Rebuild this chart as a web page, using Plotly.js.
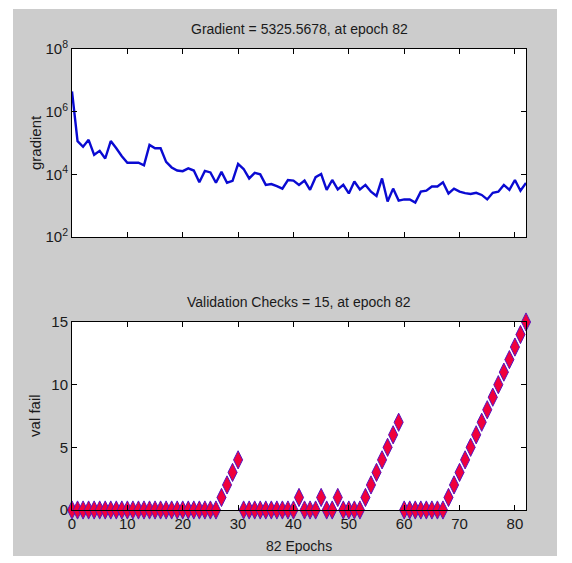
<!DOCTYPE html>
<html>
<head>
<meta charset="utf-8">
<script src="https://cdn.plot.ly/plotly-3.0.1.min.js"></script>
<style>
html,body{margin:0;padding:0;background:#ffffff;width:572px;height:563px;overflow:hidden;}
#chart{position:absolute;left:13px;top:9px;width:544px;height:547px;}
</style>
</head>
<body>
<div id="chart"></div>
<script>
// ---- data ----
const epochs = Array.from({length: 83}, (_, i) => i);
const gradient = [
  4400000, 115000, 76000, 126000, 42000, 56000, 32000, 115000, 68000, 38000,
  23400, 23400, 23400, 19500, 87000, 68000, 68000, 25000, 16600, 13200,
  12600, 15500, 13200, 5600, 12900, 11500, 5400, 12000, 5400, 6200,
  21400, 14800, 7400, 11200, 10000, 4600, 4900, 4200, 3500, 6600,
  6300, 4600, 6300, 3200, 8100, 10200, 3200, 6600, 3300, 4600,
  2450, 5900, 3300, 4600, 2800, 2040, 7400, 1350, 3500, 1450,
  1580, 1580, 1260, 2800, 3000, 4100, 4100, 5600, 2450, 3500,
  2800, 2500, 2350, 2570, 2200, 1580, 2570, 2800, 4600, 3200,
  6600, 3000, 5325.5678
];
const valFail = [
  0,0,0,0,0,0,0,0,0,0,
  0,0,0,0,0,0,0,0,0,0,
  0,0,0,0,0,0,0,1,2,3,
  4,0,0,0,0,0,0,0,0,0,
  0,1,0,0,0,1,0,0,1,0,
  0,0,0,1,2,3,4,5,6,7,
  0,0,0,0,0,0,0,0,1,2,
  3,4,5,6,7,8,9,10,11,12,
  13,14,15
];
const xTicks = [0,10,20,30,40,50,60,70,80];
const gradTickVals = [1e2,1e4,1e6,1e8];
const gradTickText = ['10<sup>2</sup>','10<sup>4</sup>','10<sup>6</sup>','10<sup>8</sup>'];
const valTicks = [0,5,10,15];
const titleTop = 'Gradient = 5325.5678, at epoch 82';
const titleBottom = 'Validation Checks = 15, at epoch 82';
const yTitleTop = 'gradient';
const yTitleBottom = 'val fail';
const xTitle = '82 Epochs';

const FONT = '"Liberation Sans", Arial, sans-serif';
const TXT = '#1a1a1a';

const traces = [
  {
    x: epochs, y: gradient, type: 'scatter', mode: 'lines',
    line: {color: 'rgb(10,10,210)', width: 2.4},
    xaxis: 'x', yaxis: 'y', hoverinfo: 'skip'
  },
  {
    x: epochs, y: valFail, type: 'scatter', mode: 'markers',
    marker: {symbol: 'diamond-tall', size: 13, color: 'rgb(240,0,60)',
             line: {color: 'rgb(90,20,190)', width: 1}},
    cliponaxis: false,
    xaxis: 'x2', yaxis: 'y2', hoverinfo: 'skip'
  }
];

const axBase = {
  showline: true, linecolor: '#000', linewidth: 1, mirror: 'ticks',
  ticks: 'inside', ticklen: 5, tickcolor: '#000', tickwidth: 1,
  showgrid: false, zeroline: false,
  tickfont: {family: FONT, size: 15, color: TXT}
};

const layout = {
  width: 544, height: 547,
  paper_bgcolor: 'rgb(204,204,204)', plot_bgcolor: '#ffffff',
  margin: {l: 59, r: 31, t: 40, b: 46},
  showlegend: false,
  xaxis: Object.assign({}, axBase, {domain: [0,1], range: [0,82], tickvals: xTicks, showticklabels: false, anchor: 'y'}),
  yaxis: Object.assign({}, axBase, {domain: [0.5922,1], type: 'log', range: [2,8], tickvals: gradTickVals, ticktext: gradTickText, anchor: 'x'}),
  xaxis2: Object.assign({}, axBase, {domain: [0,1], range: [0,82], tickvals: xTicks, anchor: 'y2'}),
  yaxis2: Object.assign({}, axBase, {domain: [0,0.4078], range: [0,15], tickvals: valTicks, anchor: 'x2'}),
  annotations: [
    {text: titleTop, xref: 'paper', yref: 'paper', x: 0.5, y: 1, yshift: 10, xanchor: 'center', yanchor: 'bottom', showarrow: false, font: {family: FONT, size: 14, color: TXT}},
    {text: titleBottom, xref: 'paper', yref: 'paper', x: 0.5, y: 0.4078, yshift: 10, xanchor: 'center', yanchor: 'bottom', showarrow: false, font: {family: FONT, size: 14, color: TXT}},
    {text: yTitleTop, xref: 'paper', yref: 'paper', x: 0, xshift: -37, y: 0.796, textangle: -90, xanchor: 'center', yanchor: 'middle', showarrow: false, font: {family: FONT, size: 15, color: TXT}},
    {text: yTitleBottom, xref: 'paper', yref: 'paper', x: 0, xshift: -37, y: 0.204, textangle: -90, xanchor: 'center', yanchor: 'middle', showarrow: false, font: {family: FONT, size: 15, color: TXT}},
    {text: xTitle, xref: 'paper', yref: 'paper', x: 0.5, y: 0, yshift: -36, xanchor: 'center', yanchor: 'middle', showarrow: false, font: {family: FONT, size: 14, color: TXT}}
  ]
};

Plotly.newPlot('chart', traces, layout, {displayModeBar: false, staticPlot: true});
</script>
</body>
</html>
